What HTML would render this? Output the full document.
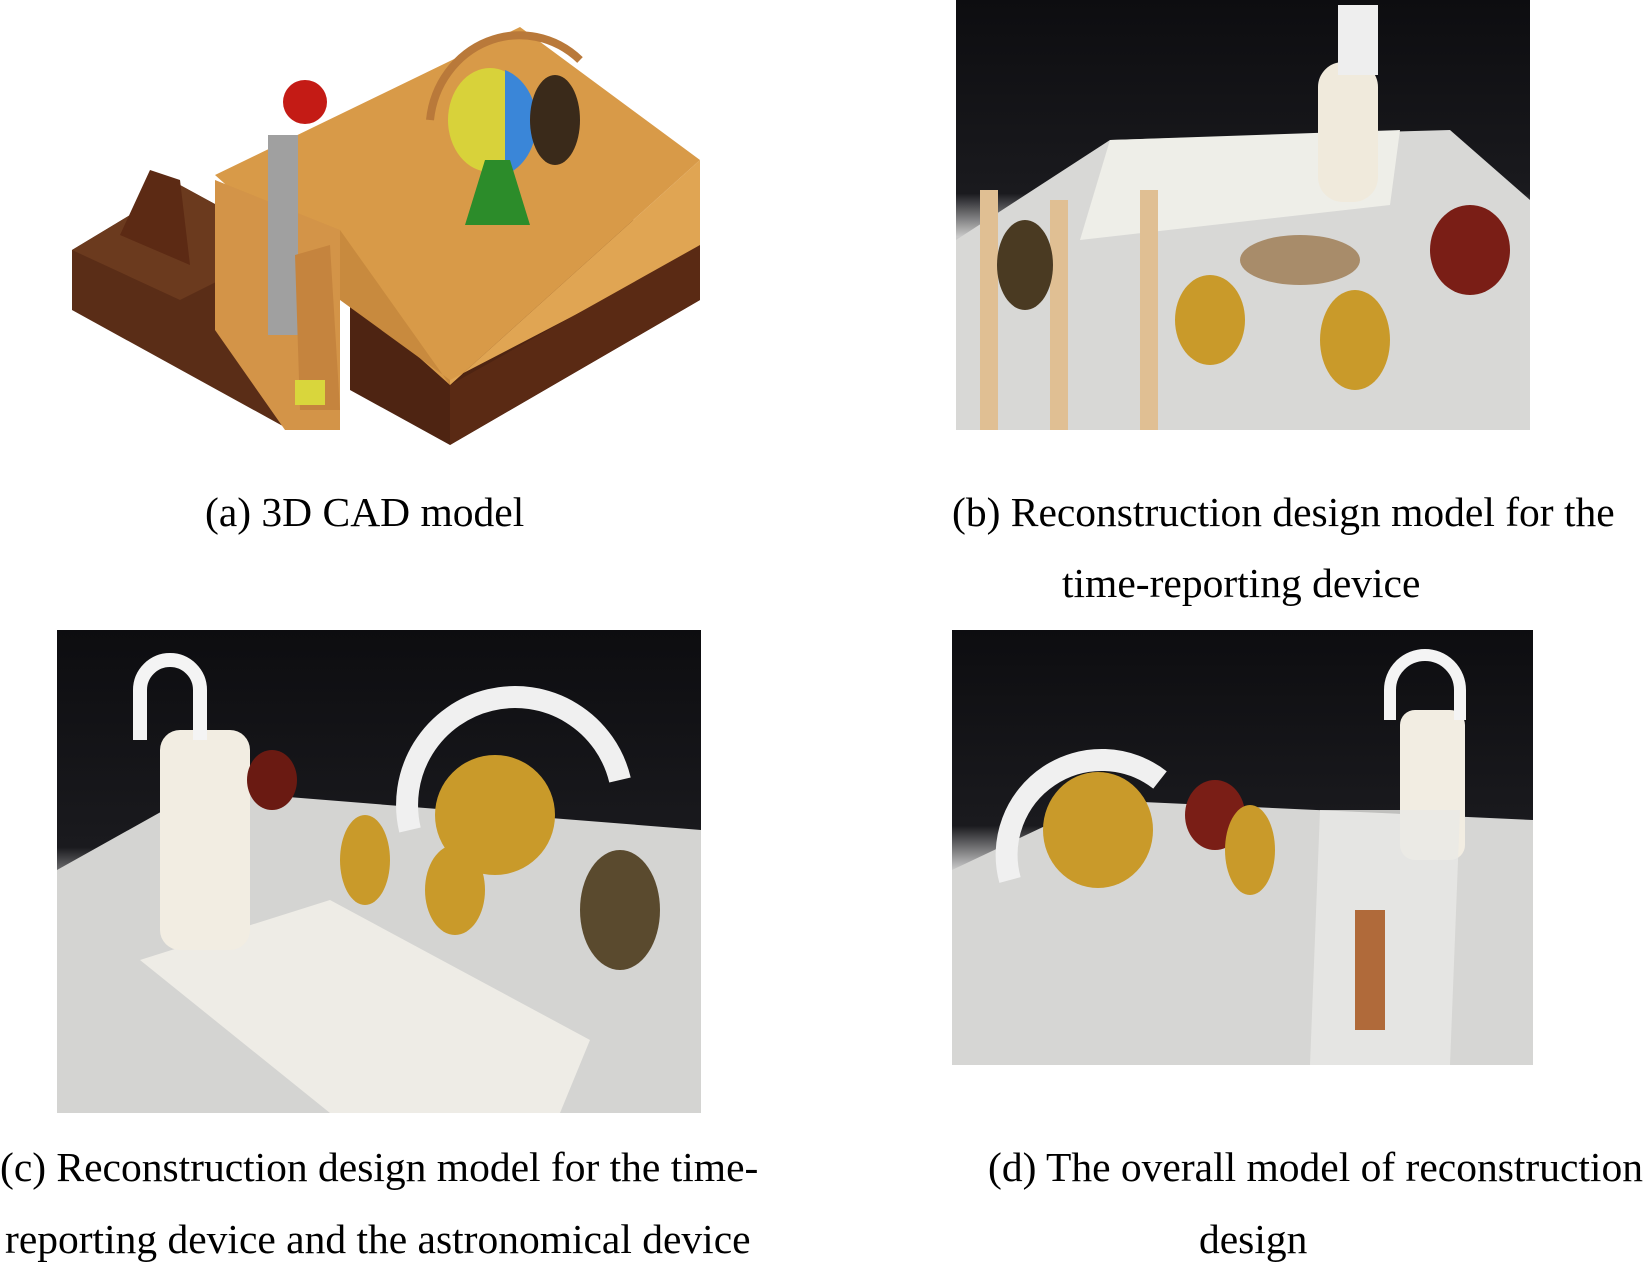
<!DOCTYPE html>
<html><head><meta charset="utf-8"><style>
html,body{margin:0;padding:0;background:#fff}
body{width:1645px;height:1263px;position:relative;overflow:hidden;font-family:"Liberation Serif",serif;color:#000}
.c{position:absolute;font-size:41.5px;white-space:nowrap;line-height:1}
svg{position:absolute;left:0;top:0}
</style></head><body>
<svg width="1645" height="1263" viewBox="0 0 1645 1263">
<defs>
<linearGradient id="ph" x1="0" y1="0" x2="0" y2="1">
<stop offset="0" stop-color="#0d0d10"/><stop offset="0.45" stop-color="#1a1a1e"/><stop offset="0.55" stop-color="#c8c8c8"/><stop offset="1" stop-color="#e8e8e8"/></linearGradient>
</defs>
<!-- (a) CAD -->
<polygon points="72,250 180,185 290,245 290,430 72,310" fill="#5a2d17"/>
<polygon points="72,250 180,185 290,245 180,300" fill="#6b3a1e"/>
<polygon points="120,235 150,170 180,180 190,265" fill="#5c2a14"/>
<polygon points="350,250 520,170 700,250 700,300 450,445 350,390" fill="#4e2412"/>
<polygon points="215,175 520,27 700,160 450,385" fill="#d89a48"/>
<polygon points="450,385 700,160 700,250 450,380" fill="#e0a553"/>
<polygon points="340,230 450,385 450,380 340,300" fill="#c88a3e"/>
<polygon points="450,385 700,245 700,300 450,445" fill="#5a2a14"/>
<polygon points="215,180 340,230 340,430 285,430 215,330" fill="#d39448"/>
<rect x="268" y="135" width="30" height="200" fill="#a0a0a0"/>
<circle cx="305" cy="102" r="22" fill="#c41b15"/>
<ellipse cx="490" cy="120" rx="42" ry="52" fill="#d8d23a"/>
<path d="M505,70 A45,55 0 0 1 505,175" fill="#3a86d8"/>
<path d="M430,120 A90,95 0 0 1 580,60" stroke="#b9793a" stroke-width="8" fill="none"/>
<polygon points="485,160 510,160 530,225 465,225" fill="#2c8c2a"/>
<ellipse cx="555" cy="120" rx="25" ry="45" fill="#3a2a1a"/>
<polygon points="295,255 330,245 340,410 300,410" fill="#c5843e"/>
<rect x="295" y="380" width="30" height="25" fill="#d9d63c"/>
<!-- (b) -->
<rect x="956" y="0" width="574" height="430" fill="url(#ph)"/>
<polygon points="956,240 1110,140 1450,130 1530,200 1530,430 956,430" fill="#d8d8d6"/>
<polygon points="1110,140 1400,130 1390,205 1080,240" fill="#eeeee8"/>
<rect x="1318" y="62" width="60" height="140" rx="25" fill="#f0eadc"/>
<rect x="1338" y="5" width="40" height="70" fill="#eee"/>
<rect x="980" y="190" width="18" height="240" fill="#e0bf93"/>
<rect x="1050" y="200" width="18" height="230" fill="#e0bf93"/>
<rect x="1140" y="190" width="18" height="240" fill="#e0bf93"/>
<ellipse cx="1025" cy="265" rx="28" ry="45" fill="#4a3a22"/>
<ellipse cx="1210" cy="320" rx="35" ry="45" fill="#c99a2a"/>
<ellipse cx="1355" cy="340" rx="35" ry="50" fill="#c99a2a"/>
<ellipse cx="1300" cy="260" rx="60" ry="25" fill="#a88c6a"/>
<ellipse cx="1470" cy="250" rx="40" ry="45" fill="#7a1e16"/>
<!-- (c) -->
<rect x="57" y="630" width="644" height="483" fill="url(#ph)"/>
<polygon points="57,870 200,790 701,830 701,1113 57,1113" fill="#d4d4d2"/>
<polygon points="140,960 330,900 590,1040 560,1113 330,1113" fill="#eeece6"/>
<rect x="160" y="730" width="90" height="220" rx="20" fill="#f2ede2"/>
<path d="M140,740 L140,690 A30,30 0 0 1 200,690 L200,740" stroke="#f4f4f4" stroke-width="14" fill="none"/>
<ellipse cx="495" cy="815" rx="60" ry="60" fill="#c99a2a"/>
<path d="M410,830 A90,90 0 0 1 620,780" stroke="#f0f0f0" stroke-width="22" fill="none"/>
<ellipse cx="272" cy="780" rx="25" ry="30" fill="#6a1a12"/>
<ellipse cx="620" cy="910" rx="40" ry="60" fill="#5a4a2e"/>
<ellipse cx="365" cy="860" rx="25" ry="45" fill="#c99a2a"/>
<ellipse cx="455" cy="890" rx="30" ry="45" fill="#c99a2a"/>
<!-- (d) -->
<rect x="952" y="630" width="581" height="435" fill="url(#ph)"/>
<polygon points="952,870 1100,800 1533,820 1533,1065 952,1065" fill="#d6d6d4"/>
<ellipse cx="1098" cy="830" rx="55" ry="58" fill="#c99a2a"/>
<path d="M1010,880 A95,95 0 0 1 1160,780" stroke="#f0f0f0" stroke-width="22" fill="none"/>
<rect x="1400" y="710" width="65" height="150" rx="15" fill="#f2ede2"/>
<path d="M1390,720 L1390,690 A35,35 0 0 1 1460,690 L1460,720" stroke="#f4f4f4" stroke-width="12" fill="none"/>
<polygon points="1320,810 1460,810 1450,1065 1310,1065" fill="#e8e8e6" opacity="0.8"/>
<rect x="1355" y="910" width="30" height="120" fill="#b06a3a"/>
<ellipse cx="1215" cy="815" rx="30" ry="35" fill="#7a1e16"/>
<ellipse cx="1250" cy="850" rx="25" ry="45" fill="#c99a2a"/>
</svg>
<div class="c" style="left:205px;top:492px">(a) 3D CAD model</div>
<div class="c" style="left:952px;top:492px">(b) Reconstruction design model for the</div>
<div class="c" style="left:1062px;top:563px">time-reporting device</div>
<div class="c" style="left:0px;top:1147px">(c) Reconstruction design model for the time-</div>
<div class="c" style="left:5px;top:1219px">reporting device and the astronomical device</div>
<div class="c" style="left:988px;top:1147px">(d) The overall model of reconstruction</div>
<div class="c" style="left:1199px;top:1219px">design</div>
</body></html>
